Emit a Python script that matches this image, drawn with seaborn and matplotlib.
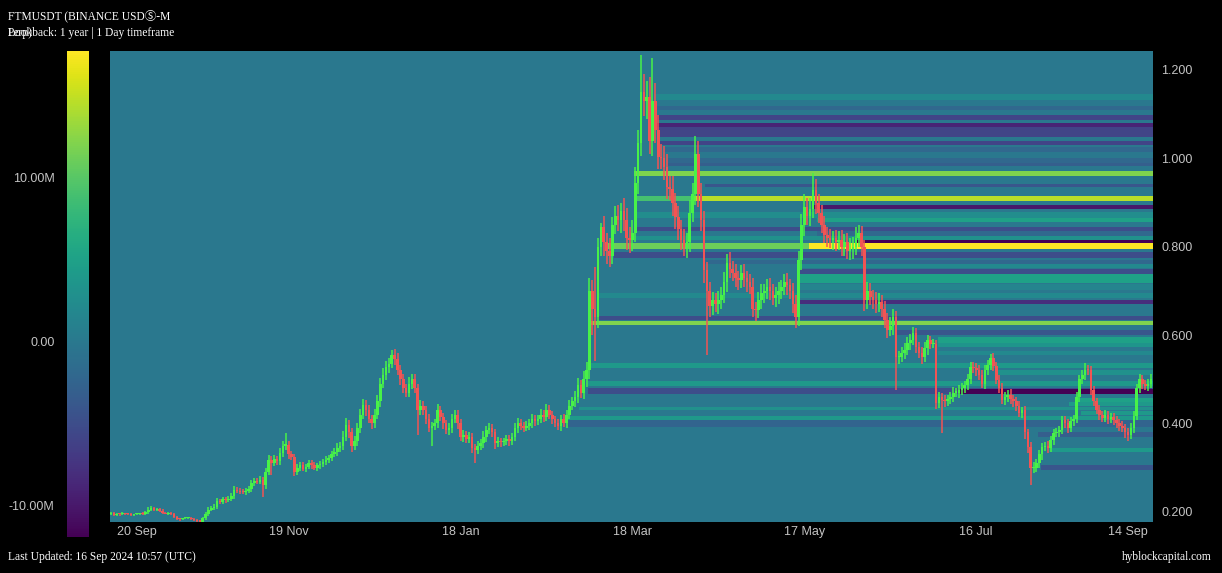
import numpy as np
import pandas as pd
import seaborn as sns
import matplotlib
matplotlib.use("Agg")
import matplotlib.pyplot as plt

# daily closes, FTMUSDT, 18 Sep 2023 -> 16 Sep 2024
close = [
    0.197, 0.193, 0.195, 0.194, 0.196, 0.195, 0.194, 0.193, 0.194, 0.195,
    0.196, 0.195, 0.199, 0.205, 0.209, 0.204, 0.206, 0.203, 0.198, 0.196,
    0.197, 0.195, 0.188, 0.184, 0.183, 0.185, 0.186, 0.187, 0.184, 0.182,
    0.179, 0.178, 0.185, 0.195, 0.205, 0.209, 0.212, 0.225, 0.222, 0.228,
    0.226, 0.230, 0.235, 0.250, 0.248, 0.245, 0.244, 0.248, 0.252, 0.265,
    0.270, 0.268, 0.272, 0.260, 0.290, 0.318, 0.310, 0.320, 0.315, 0.333,
    0.350, 0.352, 0.330, 0.325, 0.290, 0.300, 0.305, 0.298, 0.302, 0.310,
    0.305, 0.300, 0.305, 0.308, 0.312, 0.318, 0.322, 0.330, 0.335, 0.345,
    0.348, 0.370, 0.397, 0.380, 0.350, 0.360, 0.390, 0.420, 0.442, 0.430,
    0.410, 0.400, 0.420, 0.450, 0.490, 0.510, 0.528, 0.535, 0.556, 0.545,
    0.520, 0.500, 0.480, 0.470, 0.490, 0.500, 0.480, 0.430, 0.440, 0.430,
    0.410, 0.390, 0.395, 0.400, 0.430, 0.415, 0.400, 0.385, 0.390, 0.410,
    0.420, 0.400, 0.370, 0.375, 0.365, 0.370, 0.345, 0.340, 0.350, 0.355,
    0.370, 0.385, 0.390, 0.380, 0.355, 0.360, 0.357, 0.360, 0.365, 0.360,
    0.370, 0.390, 0.400, 0.395, 0.390, 0.395, 0.400, 0.410, 0.405, 0.410,
    0.420, 0.415, 0.430, 0.420, 0.410, 0.400, 0.395, 0.410, 0.400, 0.420,
    0.440, 0.450, 0.460, 0.487, 0.470, 0.500, 0.520, 0.700, 0.660, 0.640,
    0.800, 0.845, 0.810, 0.790, 0.780, 0.850, 0.870, 0.860, 0.880, 0.860,
    0.820, 0.815, 0.830, 0.945, 1.035, 1.150, 1.130, 1.140, 1.040, 1.130,
    1.064, 1.003, 1.000, 0.980, 0.935, 0.930, 0.900, 0.868, 0.840, 0.815,
    0.800, 0.810, 0.876, 0.920, 1.010, 0.920, 0.860, 0.748, 0.700, 0.665,
    0.680, 0.670, 0.680, 0.690, 0.720, 0.763, 0.750, 0.740, 0.730, 0.725,
    0.740, 0.730, 0.720, 0.710, 0.660, 0.657, 0.680, 0.695, 0.700, 0.710,
    0.700, 0.685, 0.690, 0.700, 0.710, 0.720, 0.713, 0.700, 0.670, 0.640,
    0.770, 0.850, 0.890, 0.870, 0.885, 0.928, 0.900, 0.876, 0.850, 0.826,
    0.820, 0.815, 0.820, 0.810, 0.815, 0.800, 0.810, 0.790, 0.795, 0.800,
    0.820, 0.830, 0.800, 0.680, 0.700, 0.686, 0.680, 0.670, 0.675, 0.660,
    0.635, 0.612, 0.620, 0.640, 0.550, 0.550, 0.560, 0.567, 0.582, 0.590,
    0.605, 0.574, 0.560, 0.550, 0.570, 0.589, 0.580, 0.580, 0.447, 0.460,
    0.453, 0.450, 0.455, 0.460, 0.470, 0.470, 0.475, 0.480, 0.487, 0.500,
    0.528, 0.525, 0.520, 0.510, 0.490, 0.520, 0.533, 0.548, 0.530, 0.499,
    0.480, 0.453, 0.460, 0.465, 0.455, 0.450, 0.440, 0.424, 0.430, 0.380,
    0.347, 0.300, 0.300, 0.310, 0.330, 0.347, 0.350, 0.345, 0.363, 0.379,
    0.380, 0.385, 0.408, 0.400, 0.390, 0.405, 0.410, 0.460, 0.500, 0.510,
    0.521, 0.520, 0.476, 0.450, 0.431, 0.420, 0.413, 0.420, 0.410, 0.415,
    0.408, 0.400, 0.395, 0.390, 0.380, 0.374, 0.390, 0.417, 0.480, 0.500,
    0.490, 0.485, 0.490, 0.500, 0.517,
]
first_open = 0.195

# wick lengths above / below the body, in thousandths of a dollar
wick_up = [
    3, 2, 3, 2, 3, 2, 2, 3, 2, 3,  2, 3, 4, 5, 4, 3, 3, 2, 3, 2,
    2, 3, 3, 2, 3, 2, 3, 2, 2, 3,  2, 3, 4, 5, 6, 5, 6, 7, 5, 6,
    5, 6, 7, 8, 6, 5, 6, 5, 7, 8,  6, 7, 8, 6, 9, 10, 8, 9, 7, 12,
    10, 27, 9, 8, 7, 9, 8, 7, 6, 8,  7, 8, 6, 7, 8, 9, 7, 8, 9, 10,
    9, 12, 15, 10, 9, 11, 10, 12, 13, 11,  12, 10, 13, 14, 12, 15, 13, 14, 11, 12,
    14, 12, 13, 10, 15, 12, 11, 10, 12, 11,  10, 12, 9, 11, 13, 10, 9, 8, 10, 12,
    11, 10, 9, 10, 8, 11, 9, 8, 10, 9,  12, 10, 11, 9, 8, 9, 7, 8, 9, 8,
    9, 10, 12, 9, 8, 10, 9, 11, 10, 9,  12, 10, 13, 11, 9, 8, 10, 9, 11, 10,
    12, 11, 14, 16, 12, 18, 20, 30, 25, 94,  20, 9, 25, 20, 30, 18, 22, 25, 20, 30,
    28, 25, 30, 35, 30, 84, 40, 35, 45, 97,  40, 35, 30, 28, 30, 25, 30, 22, 25, 20,
    25, 22, 30, 25, 40, 30, 25, 20, 18, 20,  18, 15, 20, 18, 22, 20, 25, 18, 20, 15,
    18, 20, 15, 18, 20, 15, 18, 20, 15, 18,  20, 15, 18, 20, 15, 18, 20, 15, 18, 20,
    20, 25, 30, 20, 25, 39, 25, 20, 18, 20,  18, 20, 15, 18, 20, 22, 18, 20, 25, 22,
    25, 20, 18, 15, 20, 18, 15, 18, 20, 15,  18, 15, 20, 18, 15, 14, 12, 15, 14, 12,
    14, 12, 10, 12, 15, 12, 10, 12, 10, 12,  10, 12, 10, 11, 12, 10, 11, 12, 10, 12,
    12, 10, 11, 12, 10, 12, 11, 10, 12, 10,  10, 12, 11, 10, 12, 10, 9, 10, 8, 9,
    8, 10, 12, 9, 10, 8, 9, 10, 9, 8,  10, 9, 10, 8, 9, 10, 9, 12, 10, 12,
    16, 12, 10, 9, 8, 10, 9, 10, 9, 8,  9, 8, 9, 10, 8, 9, 10, 12, 10, 11,
    10, 9, 10, 12, 10,
]
wick_dn = [
    2, 3, 2, 3, 2, 3, 2, 2, 3, 2,  3, 2, 3, 3, 4, 3, 2, 3, 3, 2,
    3, 2, 3, 2, 3, 2, 2, 3, 3, 2,  3, 2, 3, 4, 5, 4, 5, 6, 5, 4,
    5, 4, 6, 5, 6, 5, 4, 6, 5, 6,  7, 6, 5, 26, 8, 7, 26, 6, 8, 9,
    8, 9, 10, 8, 9, 7, 8, 6, 7, 6,  7, 6, 8, 7, 6, 7, 8, 7, 6, 8,
    9, 8, 10, 12, 14, 9, 10, 11, 9, 12,  10, 12, 11, 9, 12, 10, 11, 13, 10, 12,
    11, 13, 12, 10, 11, 12, 10, 56, 11, 10,  12, 10, 40, 9, 11, 10, 12, 9, 10, 11,
    10, 12, 9, 11, 10, 9, 12, 29, 10, 9,  10, 11, 9, 10, 12, 9, 10, 8, 9, 10,
    9, 10, 11, 9, 10, 8, 9, 10, 11, 9,  10, 11, 9, 10, 12, 9, 10, 11, 9, 10,
    11, 10, 12, 14, 12, 15, 18, 20, 60, 98,  25, 22, 30, 28, 25, 20, 22, 25, 30, 25,
    28, 30, 25, 20, 25, 30, 35, 40, 30, 35,  30, 28, 25, 30, 28, 25, 30, 28, 25, 22,
    20, 25, 22, 20, 25, 30, 25, 30, 145, 25,  20, 18, 22, 20, 18, 22, 20, 18, 20, 22,
    18, 20, 22, 18, 20, 25, 18, 20, 22, 18,  20, 18, 22, 20, 18, 20, 22, 18, 20, 25,
    20, 22, 25, 20, 22, 20, 25, 22, 20, 18,  20, 18, 22, 20, 18, 20, 22, 18, 20, 22,
    18, 20, 22, 25, 20, 18, 22, 20, 18, 20,  20, 18, 15, 20, 74, 15, 12, 14, 12, 15,
    12, 14, 12, 15, 12, 14, 12, 10, 14, 12,  74, 12, 10, 12, 11, 10, 12, 11, 10, 12,
    11, 10, 12, 11, 10, 12, 10, 11, 12, 10,  11, 10, 12, 11, 10, 12, 11, 10, 12, 15,
    14, 39, 12, 10, 11, 12, 10, 11, 10, 12,  10, 11, 9, 10, 12, 10, 11, 10, 12, 10,
    11, 10, 12, 11, 10, 12, 10, 9, 11, 10,  12, 10, 11, 9, 14, 14, 10, 11, 10, 12,
    11, 10, 12, 10, 11,
]

# liquidation level bands: first day index, price low, price high, value in millions
band_start = [190, 191, 191, 191, 191, 192, 193, 195, 195, 183,
              208, 183, 203, 246, 183, 247, 183, 247, 183, 261,
              174, 244, 176, 208, 240, 240, 240, 240, 170, 240,
              170, 168, 274, 289, 289, 289, 167, 310, 167, 167,
              297, 338, 164, 335, 160, 160, 339, 324, 328, 325]
band_lo = [1.133, 1.109, 1.088, 1.069, 1.048, 1.029, 1.015, 0.991, 0.982, 0.959,
           0.934, 0.903, 0.903, 0.885, 0.866, 0.855, 0.835, 0.826, 0.816, 0.808,
           0.796, 0.796, 0.776, 0.761, 0.752, 0.737, 0.717, 0.703, 0.685, 0.669,
           0.635, 0.622, 0.600, 0.583, 0.573, 0.555, 0.525, 0.511, 0.484, 0.468,
           0.468, 0.448, 0.430, 0.439, 0.407, 0.392, 0.420, 0.369, 0.335, 0.295]
band_hi = [1.144, 1.117, 1.097, 1.081, 1.069, 1.040, 1.025, 1.001, 0.991, 0.972,
           0.943, 0.914, 0.914, 0.896, 0.877, 0.866, 0.846, 0.835, 0.825, 0.816,
           0.807, 0.807, 0.787, 0.769, 0.761, 0.749, 0.737, 0.715, 0.695, 0.681,
           0.643, 0.633, 0.613, 0.595, 0.583, 0.564, 0.538, 0.519, 0.495, 0.479,
           0.477, 0.457, 0.438, 0.447, 0.418, 0.407, 0.428, 0.379, 0.345, 0.305]
band_val = [2.0, -2.0, -6.0, -9.0, -6.0, -6.0, -2.0, -2.0, -3.0, 12.0,
            -4.0, 9.0, 14.5, -10.0, 2.5, 5.0, -5.0, -2.0, 3.0, -11.9,
            11.0, 17.7, -5.0, -2.0, 2.0, -5.0, 5.0, 1.5, 2.0, -8.0,
            -5.0, 12.0, -4.0, 5.0, 3.5, 2.0, 4.0, 3.0, 4.0, -5.0,
            -11.9, 5.0, 3.0, 4.0, 4.0, -2.5, 4.0, -3.0, 4.0, -4.0]

tick_dates = ["2023-09-20", "2023-11-19", "2024-01-18", "2024-03-18",
              "2024-05-17", "2024-07-16", "2024-09-14"]
tick_names = ["20 Sep", "19 Nov", "18 Jan", "18 Mar", "17 May", "16 Jul", "14 Sep"]
price_ticks = [0.2, 0.4, 0.6, 0.8, 1.0, 1.2]
cbar_ticks = [-10, 0, 10]

start = pd.Timestamp("2023-09-18")
n = len(close)
days = np.arange(n)
opens = np.array([first_open] + close[:-1])
closes = np.array(close)
top = np.maximum(opens, closes)
bot = np.minimum(opens, closes)
highs = top + np.array(wick_up) / 1000
lows = bot - np.array(wick_dn) / 1000

# heatmap grid (rows = price bins, cols = days)
p0, p1, step = 0.175, 1.245, 0.0025
levels = np.arange(p0, p1, step)
grid = np.zeros((len(levels), n))
mid = levels + step / 2
for s, lo, hi, v in zip(band_start, band_lo, band_hi, band_val):
    rows = (mid >= lo) & (mid <= hi)
    grid[rows, s:] = v * 1e6
grid = pd.DataFrame(grid, index=np.round(levels, 4), columns=days)

sns.set_theme(style="dark")
sans = ["Liberation Sans", "DejaVu Sans"]
plt.rcParams["font.family"] = sans

W, H = 1222, 573
fig = plt.figure(figsize=(W / 100, H / 100), dpi=100, facecolor="black")
rect = [110 / W, 1 - 522 / H, (1153 - 110) / W, (522 - 51) / H]
ax_h = fig.add_axes(rect)
cax = fig.add_axes([67 / W, 1 - 537 / H, 22 / W, (537 - 51) / H])

vmin, vmax = -11.9e6, 17.7e6
sns.heatmap(grid, ax=ax_h, cbar_ax=cax, cmap="viridis", vmin=vmin, vmax=vmax,
            xticklabels=False, yticklabels=False, rasterized=True)

xlo, xhi = -0.35, 363.7
ylo, yhi = 0.177, 1.243
ax_h.set_xlim(xlo + 0.5, xhi + 0.5)
ax_h.set_ylim((ylo - p0) / step, (yhi - p0) / step)
ax_h.axis("off")

# candles on a transparent axes over the heatmap
ax = fig.add_axes(rect)
ax.patch.set_alpha(0)
green, red = "#48f248", "#f25454"
cols = np.where(closes >= opens, green, red)
ax.vlines(days, lows, highs, colors=cols, linewidth=1.1)
ax.bar(days, np.maximum(top - bot, 0.0025), bottom=bot, width=0.9,
       color=cols, linewidth=0)
ax.set_xlim(xlo, xhi)
ax.set_ylim(ylo, yhi)
for sp in ax.spines.values():
    sp.set_visible(False)
ax.grid(False)

tick_pos = [(pd.Timestamp(d) - start).days for d in tick_dates]
ax.set_xticks(tick_pos)
ax.set_xticklabels(tick_names, fontfamily=sans)
ax.yaxis.tick_right()
ax.set_yticks(price_ticks)
ax.set_yticklabels([f"{p:.3f}" for p in price_ticks], fontfamily=sans)
ax.tick_params(axis="both", length=0, colors="#c4c4c4", labelsize=9)
ax.tick_params(axis="x", pad=3)
ax.tick_params(axis="y", pad=6)
labs = ax.get_xticklabels()
labs[0].set_ha("left")
labs[-1].set_ha("right")

cax.yaxis.set_ticks_position("left")
cax.set_yticks([t * 1e6 for t in cbar_ticks])
cax.set_yticklabels(["-10.00M", "0.00", "10.00M"], fontfamily=sans)
cax.tick_params(axis="y", length=0, colors="#c4c4c4", labelsize=9, pad=9)
for sp in cax.spines.values():
    sp.set_visible(False)

serif = ["Liberation Serif", "Noto Sans CJK JP", "DejaVu Sans"]
fig.text(8 / W, 1 - 16 / H, "FTMUSDT (BINANCE USDⓈ-M", family=serif,
         color="white", fontsize=8.3, va="center")
fig.text(8 / W, 1 - 33 / H, "Lookback: 1 year | 1 Day timeframe", family=serif,
         color="white", fontsize=8.3, va="center")
fig.text(8 / W, 1 - 33 / H, "Perp)", family=serif,
         color="white", fontsize=8.3, va="center")
fig.text(8 / W, 1 - 557 / H, "Last Updated: 16 Sep 2024 10:57 (UTC)", family=serif,
         color="white", fontsize=8.3, va="center")
fig.text(1212 / W, 1 - 557 / H, "hyblockcapital.com", family=serif,
         color="white", fontsize=8.3, va="center", ha="right")

fig.savefig("out.png", dpi=100, facecolor="black")
